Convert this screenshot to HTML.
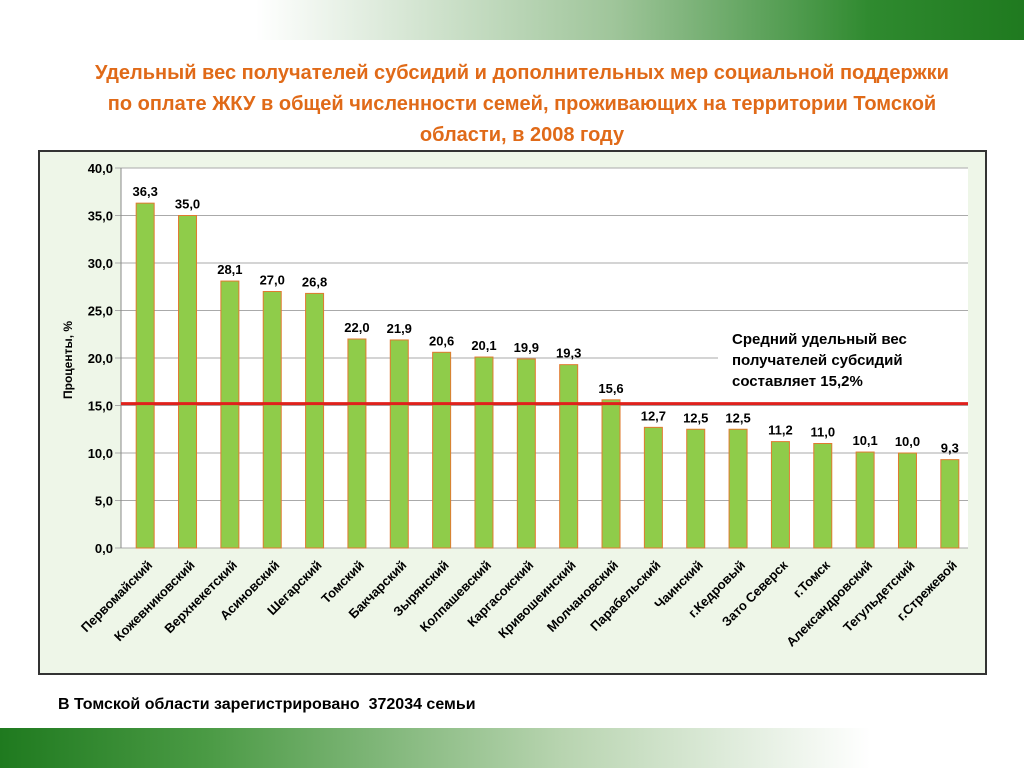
<!DOCTYPE html>
<html><head><meta charset="utf-8"><style>
body{margin:0;width:1024px;height:768px;background:#fff;position:relative;overflow:hidden;font-family:"Liberation Sans","DejaVu Sans",sans-serif}
.top{position:absolute;left:0;top:0;width:1024px;height:40px;background:linear-gradient(90deg,#fff 0%,#fff 25%,#9fc59a 60%,#2f8a2f 85%,#1f7a1f 100%)}
.bot{position:absolute;left:0;top:728px;width:1024px;height:40px;background:linear-gradient(90deg,#1f7a1f 0%,#4a9a44 20%,#b8d4b0 55%,#fff 85%)}
.title{position:absolute;left:20px;width:1004px;top:58px;text-align:center;color:#e06a18;font-weight:bold;font-size:20px;line-height:31px}
.foot{position:absolute;left:58px;top:696px;font-weight:bold;font-size:16px;color:#000}
</style></head><body>
<div class="top"></div>
<div class="title">Удельный вес получателей субсидий и дополнительных мер социальной поддержки<br>по оплате ЖКУ в общей численности семей, проживающих на территории Томской<br>области, в 2008 году</div>
<svg width="1024" height="768" style="position:absolute;left:0;top:0" id="chart">
<rect x="39" y="151" width="947" height="523" fill="#eef6e8" stroke="#333" stroke-width="2"/>
<rect x="121" y="168" width="847" height="380" fill="#fff"/>
<g id="grid"></g><g id="bars"></g><g id="labels"></g>
<line id="avg" x1="121" x2="968" stroke="#e0201c" stroke-width="3"/>
<rect x="718" y="320" width="250" height="75" fill="#fff"/>
<text x="732" y="344" font-size="15" font-weight="bold"><tspan x="732">Средний удельный вес</tspan><tspan x="732" dy="21">получателей субсидий</tspan><tspan x="732" dy="21">составляет 15,2%</tspan></text>
<text transform="translate(72,360) rotate(-90)" text-anchor="middle" font-size="12" font-weight="bold">Проценты, %</text>
</svg>
<div class="foot">В Томской области зарегистрировано&nbsp; 372034 семьи</div>
<div class="bot"></div>
<script>
const categories=["Первомайский","Кожевниковский","Верхнекетский","Асиновский","Шегарский","Томский","Бакчарский","Зырянский","Колпашевский","Каргасокский","Кривошеинский","Молчановский","Парабельский","Чаинский","г.Кедровый","Зато Северск","г.Томск","Александровский","Тегульдетский","г.Стрежевой"];
const values=[36.3,35.0,28.1,27.0,26.8,22.0,21.9,20.6,20.1,19.9,19.3,15.6,12.7,12.5,12.5,11.2,11.0,10.1,10.0,9.3];
const ticks=[0,5,10,15,20,25,30,35,40];
const average=15.2;
const NS="http://www.w3.org/2000/svg";
const x0=121,x1=968,yTop=168,yBot=548,maxV=40;
const y=v=>yBot-(v/maxV)*(yBot-yTop);
const band=(x1-x0)/categories.length;
const xc=i=>x0+band*(i+0.5)+3;
const fmt=v=>v.toFixed(1).replace('.',',');
function mk(tag,attrs,parent){const e=document.createElementNS(NS,tag);for(const k in attrs)e.setAttribute(k,attrs[k]);parent.appendChild(e);return e;}
const g=document.getElementById('grid'),b=document.getElementById('bars'),l=document.getElementById('labels');
ticks.forEach(t=>{
 const ln=mk('line',{x1:x0-6,x2:x1,y1:y(t),y2:y(t),stroke:'#aaa','stroke-width':1},g);
 
 
 const tx=mk('text',{x:x0-8,y:y(t)+5,'text-anchor':'end','font-size':13,'font-weight':'bold'},g);
 tx.textContent=fmt(t);
 
 
});
mk('line',{x1:x0,x2:x0,y1:yTop,y2:yBot,stroke:'#888'},g);
values.forEach((v,i)=>{
 const r=mk('rect',{x:xc(i)-9,y:y(v),width:18,height:yBot-y(v),fill:'#8fcc4a',stroke:'#e07a30','stroke-width':1},b);
 
 
 const vt=mk('text',{x:xc(i),y:y(v)-7,'text-anchor':'middle','font-size':13,'font-weight':'bold'},l);
 vt.textContent=fmt(v);
 
 
 const ct=mk('text',{transform:`translate(${xc(i)+8},${yBot+18}) rotate(-45)`,'text-anchor':'end','font-size':13,'font-weight':'bold'},l);
 ct.textContent=categories[i];
 
 
});
const a=document.getElementById('avg');a.setAttribute('y1',y(average));a.setAttribute('y2',y(average));
</script>
</body></html>
